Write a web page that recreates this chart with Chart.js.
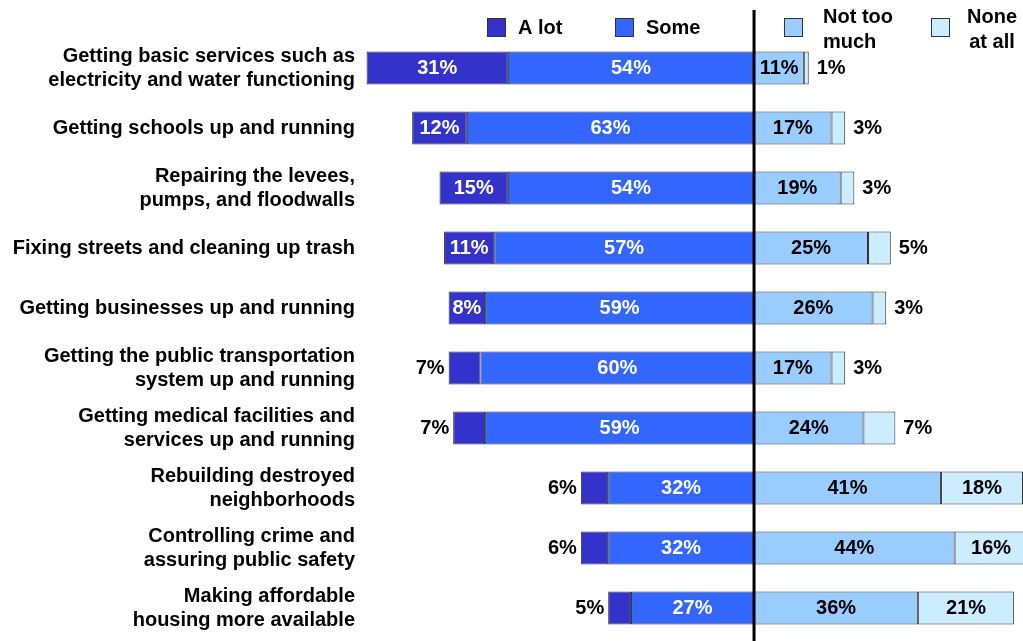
<!DOCTYPE html>
<html>
<head>
<meta charset="utf-8">
<script src="https://cdn.jsdelivr.net/npm/chart.js@4/dist/chart.umd.min.js"></script>
<style>
  html, body { margin: 0; padding: 0; background: #fff; }
  #wrap { width: 1023px; height: 641px; }
</style>
</head>
<body>
<div id="wrap"><canvas id="chart"></canvas></div>
<script>
// categories (multi-line labels as in the original)
const categories = [
    ['Getting basic services such as', 'electricity and water functioning'],
    'Getting schools up and running',
    ['Repairing the levees,', 'pumps, and floodwalls'],
    'Fixing streets and cleaning up trash',
    'Getting businesses up and running',
    ['Getting the public transportation', 'system up and running'],
    ['Getting medical facilities and', 'services up and running'],
    ['Rebuilding destroyed', 'neighborhoods'],
    ['Controlling crime and', 'assuring public safety'],
    ['Making affordable', 'housing more available']
];

// percentages per answer
const aLot       = [31, 12, 15, 11, 8, 7, 7, 6, 6, 5];
const some       = [54, 63, 54, 57, 59, 60, 59, 32, 32, 27];
const notTooMuch = [11, 17, 19, 25, 26, 17, 24, 41, 44, 36];
const noneAtAll  = [1, 3, 3, 5, 3, 3, 7, 18, 16, 21];

const COLORS = {
    aLot: '#3333CC',
    some: '#3366FF',
    notTooMuch: '#99CCFF',
    noneAtAll: '#CCECFF'
};

const FONT = '"Liberation Sans", Arial, sans-serif';

// "A lot" and "Some" go left of the zero line
const negate = arr => arr.map(v => -v);

// draws the percent labels, the zero line and the legend
const overlayPlugin = {
    id: 'overlay',
    afterDatasetsDraw(chart) {
        const ctx = chart.ctx;
        const x0 = chart.scales.x.getPixelForValue(0);

        ctx.save();
        ctx.font = 'bold 20px ' + FONT;
        ctx.textBaseline = 'middle';

        chart.data.datasets.forEach((ds, di) => {
            const meta = chart.getDatasetMeta(di);
            meta.data.forEach((bar, i) => {
                const v = Math.abs(ds.data[i]);
                const txt = v + '%';
                const left = Math.min(bar.x, bar.base);
                const right = Math.max(bar.x, bar.base);
                const cx = (left + right) / 2;
                if (ds.key === 'aLot' && v < 8) {
                    ctx.fillStyle = '#000';
                    ctx.textAlign = 'right';
                    ctx.fillText(txt, left - 4, bar.y);
                } else if (ds.key === 'noneAtAll' && v < 10) {
                    ctx.fillStyle = '#000';
                    ctx.textAlign = 'left';
                    ctx.fillText(txt, right + 8, bar.y);
                } else {
                    ctx.fillStyle = (ds.key === 'aLot' || ds.key === 'some') ? '#fff' : '#000';
                    ctx.textAlign = 'center';
                    ctx.fillText(txt, cx, bar.y);
                }
            });
        });

        // zero line
        ctx.strokeStyle = '#000';
        ctx.lineWidth = 3;
        ctx.beginPath();
        ctx.moveTo(x0, 10);
        ctx.lineTo(x0, chart.height);
        ctx.stroke();

        // legend
        const items = [
            { color: COLORS.aLot, box: 487, lines: ['A lot'], tx: 518, align: 'left' },
            { color: COLORS.some, box: 615, lines: ['Some'], tx: 646, align: 'left' },
            { color: COLORS.notTooMuch, box: 784, lines: ['Not too', 'much'], tx: 823, align: 'left' },
            { color: COLORS.noneAtAll, box: 931, lines: ['None', 'at all'], tx: 992, align: 'center' }
        ];
        items.forEach(it => {
            ctx.fillStyle = it.color;
            ctx.fillRect(it.box, 18, 18, 18);
            ctx.strokeStyle = '#333';
            ctx.lineWidth = 1;
            ctx.strokeRect(it.box + 0.5, 18.5, 18, 18);
            ctx.fillStyle = '#000';
            ctx.textAlign = it.align;
            if (it.lines.length === 1) {
                ctx.fillText(it.lines[0], it.tx, 28);
            } else {
                ctx.fillText(it.lines[0], it.tx, 17);
                ctx.fillText(it.lines[1], it.tx, 42);
            }
        });
        ctx.restore();
    }
};

const barStyle = {
    borderColor: '#333',
    borderWidth: 1,
    borderSkipped: false,
    barPercentage: 0.55,
    categoryPercentage: 1.0
};

new Chart(document.getElementById('chart'), {
    type: 'bar',
    data: {
        labels: categories,
        datasets: [
            { key: 'some', label: 'Some', data: negate(some), backgroundColor: COLORS.some, ...barStyle },
            { key: 'aLot', label: 'A lot', data: negate(aLot), backgroundColor: COLORS.aLot, ...barStyle },
            { key: 'notTooMuch', label: 'Not too much', data: notTooMuch, backgroundColor: COLORS.notTooMuch, ...barStyle },
            { key: 'noneAtAll', label: 'None at all', data: noneAtAll, backgroundColor: COLORS.noneAtAll, ...barStyle }
        ]
    },
    options: {
        indexAxis: 'y',
        responsive: true,
        maintainAspectRatio: false,
        animation: false,
        layout: { padding: { top: 38, bottom: 3, left: 0, right: 0 } },
        plugins: {
            legend: { display: false },
            tooltip: { enabled: false }
        },
        scales: {
            x: {
                stacked: true,
                display: false,
                min: -86,
                max: 59
            },
            y: {
                stacked: true,
                grid: { display: false, drawTicks: false },
                border: { display: false },
                afterFit: (scale) => {
                    scale.width = 362;
                    scale.paddingTop = 0;
                    scale.paddingBottom = 0;
                },
                ticks: {
                    color: '#000',
                    padding: 7,
                    font: { family: FONT, size: 20, weight: 'bold', lineHeight: 1.2 }
                }
            }
        }
    },
    plugins: [overlayPlugin]
});
</script>
</body>
</html>
